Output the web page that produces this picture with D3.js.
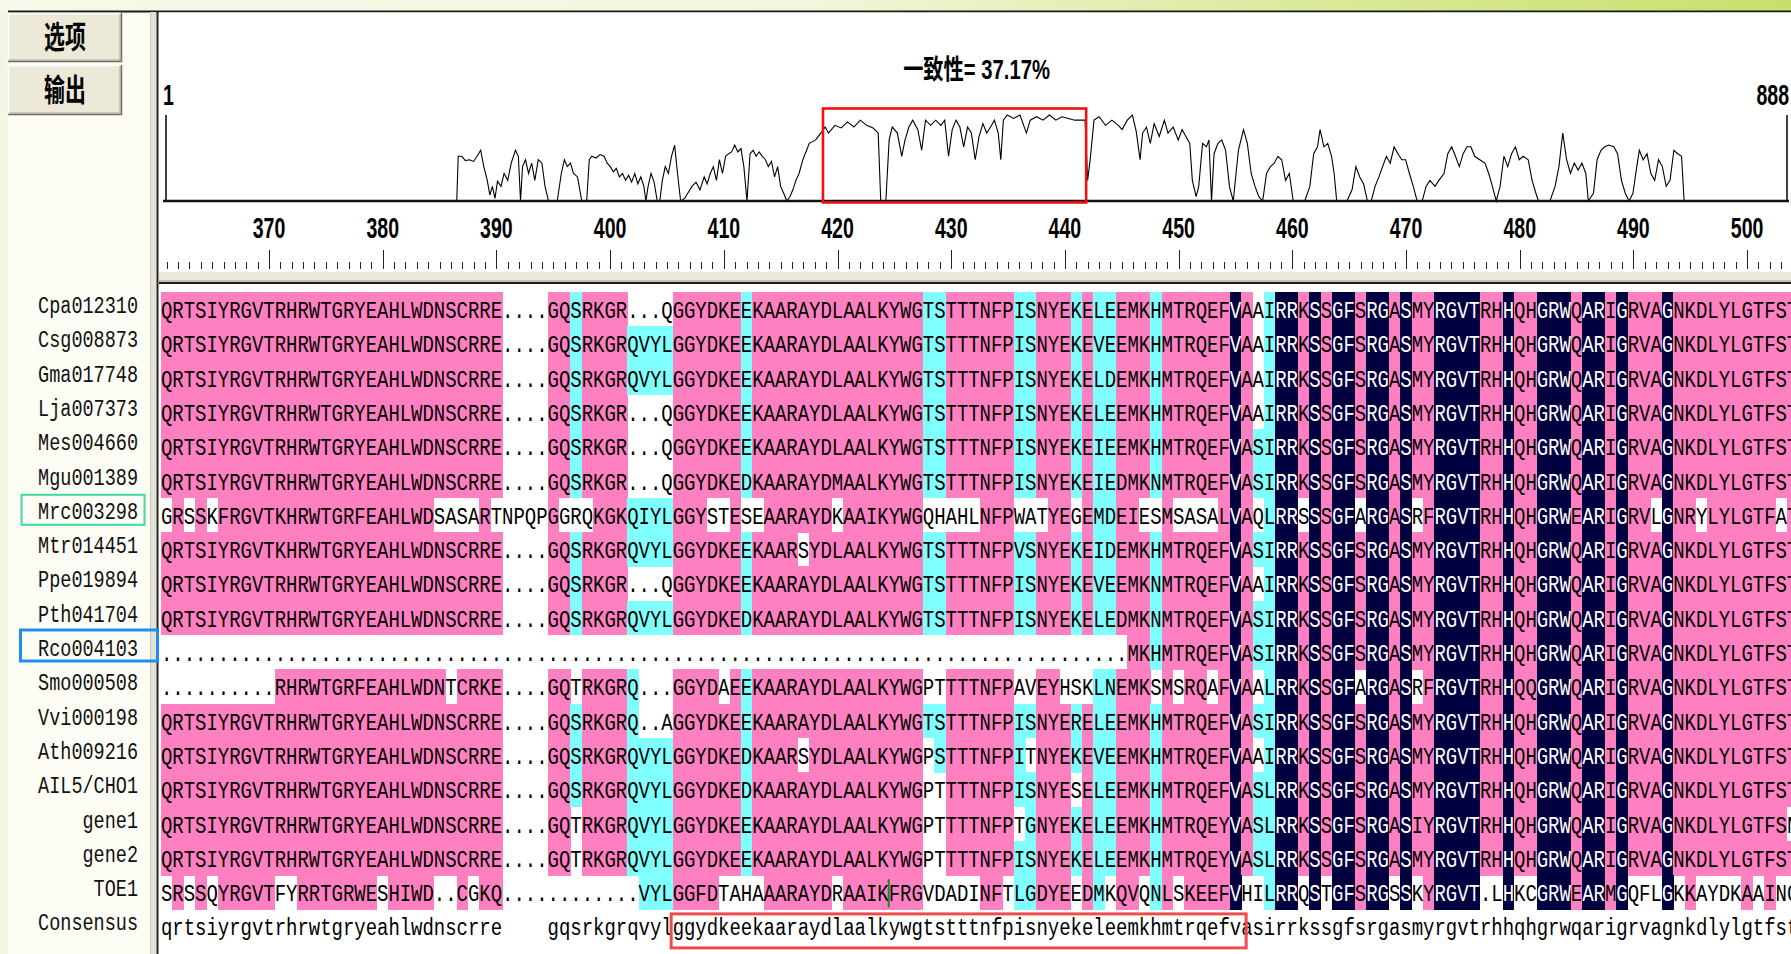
<!DOCTYPE html>
<html>
<head>
<meta charset="utf-8">
<script src="https://cdn.jsdelivr.net/npm/d3@7"></script>
<style>
  html, body { margin: 0; padding: 0; overflow: hidden; background: #fcfdf4; }
  svg { display: block; }
</style>
</head>
<body>
<svg id="chart" width="1791" height="954"></svg>
<script>
// ---------------- alignment data ----------------
const seqNames = [
  "Cpa012310", "Csg008873", "Gma017748", "Lja007373", "Mes004660", "Mgu001389",
  "Mrc003298", "Mtr014451", "Ppe019894", "Pth041704", "Rco004103", "Smo000508",
  "Vvi000198", "Ath009216", "AIL5/CHO1", "gene1", "gene2", "TOE1"
];

const sequences = [
  "QRTSIYRGVTRHRWTGRYEAHLWDNSCRRE....GQSRKGR...QGGYDKEEKAARAYDLAALKYWGTSTTTNFPISNYEKELEEMKHMTRQEFVAAIRRKSSGFSRGASMYRGVTRHHQHGRWQARIGRVAGNKDLYLGTFST",
  "QRTSIYRGVTRHRWTGRYEAHLWDNSCRRE....GQSRKGRQVYLGGYDKEEKAARAYDLAALKYWGTSTTTNFPISNYEKEVEEMKHMTRQEFVAAIRRKSSGFSRGASMYRGVTRHHQHGRWQARIGRVAGNKDLYLGTFST",
  "QRTSIYRGVTRHRWTGRYEAHLWDNSCRRE....GQSRKGRQVYLGGYDKEEKAARAYDLAALKYWGTSTTTNFPISNYEKELDEMKHMTRQEFVAAIRRKSSGFSRGASMYRGVTRHHQHGRWQARIGRVAGNKDLYLGTFST",
  "QRTSIYRGVTRHRWTGRYEAHLWDNSCRRE....GQSRKGR...QGGYDKEEKAARAYDLAALKYWGTSTTTNFPISNYEKELEEMKHMTRQEFVAAIRRKSSGFSRGASMYRGVTRHHQHGRWQARIGRVAGNKDLYLGTFST",
  "QRTSIYRGVTRHRWTGRYEAHLWDNSCRRE....GQSRKGR...QGGYDKEEKAARAYDLAALKYWGTSTTTNFPISNYEKEIEEMKHMTRQEFVASIRRKSSGFSRGASMYRGVTRHHQHGRWQARIGRVAGNKDLYLGTFST",
  "QRTSIYRGVTRHRWTGRYEAHLWDNSCRRE....GQSRKGR...QGGYDKEDKAARAYDMAALKYWGTSTTTNFPISNYEKEIEDMKNMTRQEFVASIRRKSSGFSRGASMYRGVTRHHQHGRWQARIGRVAGNKDLYLGTFST",
  "GRSSKFRGVTKHRWTGRFEAHLWDSASARTNPQPGGRQKGKQIYLGGYSTESEAARAYDKAAIKYWGQHAHLNFPWATYEGEMDEIESMSASALVAQLRRSSSGFARGASRFRGVTRHHQHGRWEARIGRVLGNRYLYLGTFAT",
  "QRTSIYRGVTKHRWTGRYEAHLWDNSCRRE....GQSRKGRQVYLGGYDKEEKAARSYDLAALKYWGTSTTTNFPVSNYEKEIDEMKHMTRQEFVASIRRKSSGFSRGASMYRGVTRHHQHGRWQARIGRVAGNKDLYLGTFST",
  "QRTSIYRGVTRHRWTGRYEAHLWDNSCRRE....GQSRKGR...QGGYDKEEKAARAYDLAALKYWGTSTTTNFPISNYEKEVEEMKNMTRQEFVAAIRRKSSGFSRGASMYRGVTRHHQHGRWQARIGRVAGNKDLYLGTFST",
  "QRTSIYRGVTRHRWTGRYEAHLWDNSCRRE....GQSRKGRQVYLGGYDKEDKAARAYDLAALKYWGTSTTTNFPISNYEKELEDMKNMTRQEFVASIRRKSSGFSRGASMYRGVTRHHQHGRWQARIGRVAGNKDLYLGTFST",
  ".".repeat(85) + "MKHMTRQEFVASIRRKSSGFSRGASMYRGVTRHHQHGRWQARIGRVAGNKDLYLGTFST",
  "..........RHRWTGRFEAHLWDNTCRKE....GQTRKGRQ...GGYDAEEKAARAYDLAALKYWGPTTTTNFPAVEYHSKLNEMKSMSRQAFVAALRRKSSGFARGASRFRGVTRHHQQGRWQARIGRVAGNKDLYLGTFST",
  "QRTSIYRGVTRHRWTGRYEAHLWDNSCRRE....GQSRKGRQ..AGGYDKEEKAARAYDLAALKYWGTSTTTNFPISNYERELEEMKHMTRQEFVASIRRKSSGFSRGASMYRGVTRHHQHGRWQARIGRVAGNKDLYLGTFST",
  "QRTSIYRGVTRHRWTGRYEAHLWDNSCRRE....GQSRKGRQVYLGGYDKEDKAARSYDLAALKYWGPSTTTNFPITNYEKEVEEMKHMTRQEFVAAIRRKSSGFSRGASMYRGVTRHHQHGRWQARIGRVAGNKDLYLGTFST",
  "QRTSIYRGVTRHRWTGRYEAHLWDNSCRRE....GQSRKGRQVYLGGYDKEDKAARAYDLAALKYWGPTTTTNFPISNYESELEEMKHMTRQEFVASLRRKSSGFSRGASMYRGVTRHHQHGRWQARIGRVAGNKDLYLGTFST",
  "QRTSIYRGVTRHRWTGRYEAHLWDNSCRRE....GQTRKGRQVYLGGYDKEEKAARAYDLAALKYWGPTTTTNFPTGNYEKELEEMKHMTRQEYVASLRRKSSGFSRGASIYRGVTRHHQHGRWQARIGRVAGNKDLYLGTFSN",
  "QRTSIYRGVTRHRWTGRYEAHLWDNSCRRE....GQTRKGRQVYLGGYDKEEKAARAYDLAALKYWGPTTTTNFPISNYEKELEEMKHMTRQEYVASLRRKSSGFSRGASMYRGVTRHHQHGRWQARIGRVAGNKDLYLGTFST",
  "SRSSQYRGVTFYRRTGRWESHIWD..CGKQ............VYLGGFDTAHAAARAYDRAAIKFRGVDADINFTLGDYEEDMKQVQNLSKEEFVHILRRQSTGFSRGSSKYRGVT.LHKCGRWEARMGQFLGKKAYDKAAINC"
];

const consensusLine =
  "qrtsiyrgvtrhrwtgryeahlwdnscrre    gqsrkgrqvylggydkeekaaraydlaalkywgtstttnfpisnyekeleemkhmtrqefvasirrkssgfsrgasmyrgvtrhhqhgrwqarigrvagnkdlylgtfst";

// residue pairs shaded as similar to the consensus residue
const similarPairs = ["FY", "FW", "WY", "FL", "FI", "KR", "IL", "IV", "IM", "LM", "LV", "MV",
  "DE", "DN", "EN", "EQ", "DQ", "NQ", "NH", "QH", "RW", "GS", "AG"];

// visible window of the alignment and its ruler
const windowStart = 361;
const windowEnd = 504;
const alignmentLength = 888;
const rulerLabels = [370, 380, 390, 400, 410, 420, 430, 440, 450, 460, 470, 480, 490, 500];
const identityText = "一致性= 37.17%";

// highlighted consensus stretch (alignment columns) and edit caret
const boxedColumns = [45, 94];
const caret = { row: 17, col: 64 };
const greenRow = 6, blueRow = 10;

// overall identity profile along the whole alignment: [position, fraction]
const identityProfile = [
  [160.1,0],[160.9,0.52],[162.9,0.52],[164.8,0.47],[167.0,0.48],[169.3,0.46],[171.2,0.52],[173.2,0.59],[174.9,0.40],[176.8,0.24],
  [178.2,0.07],[179.6,0.17],[181.0,0.03],[182.4,0.23],[184.3,0.17],[186.0,0.32],[188.0,0.24],[189.9,0.44],[192.2,0.59],[193.8,0.52],
  [195.0,0],[196.1,0.40],[197.7,0.48],[199.4,0.32],[201.1,0.44],[202.8,0.24],[204.7,0.48],[206.7,0.44],[208.4,0.17],[210.3,0],
  [215.1,0],[217.3,0.32],[219.0,0.48],[220.6,0.40],[222.3,0.44],[224.0,0.32],[226.2,0.28],[228.5,0],[231.2,0],[232.6,0.48],
  [234.0,0.52],[236.3,0.50],[238.5,0.54],[240.7,0.52],[242.4,0.44],[244.1,0.40],[245.8,0.34],[247.4,0.38],[249.1,0.28],[250.8,0.32],
  [252.5,0.24],[254.1,0.30],[255.8,0.22],[257.5,0.32],[259.2,0.20],[260.8,0.28],[262.5,0.17],[263.6,0],[264.8,0.17],[266.4,0.32],
  [268.1,0.22],[269.8,0],[271.2,0],[272.6,0.24],[274.2,0.40],[275.9,0.32],[277.6,0.52],[279.3,0.65],[280.9,0.32],[282.6,0],
  [284.8,0.03],[286.5,0.09],[288.8,0.17],[291.0,0.22],[293.2,0.13],[295.5,0.28],[297.1,0.20],[298.8,0.32],[300.5,0.40],[302.2,0.24],
  [303.8,0.48],[305.5,0.32],[307.2,0.52],[308.9,0.55],[310.5,0.57],[312.2,0.65],[313.9,0.57],[315.6,0.61],[317.2,0.40],[318.9,0],
  [320.6,0.55],[322.3,0.59],[323.9,0.52],[325.6,0.57],[327.3,0.52],[329.0,0.48],[330.6,0.40],[332.3,0.46],[334.0,0.28],[335.7,0.40],
  [337.3,0.17],[339.0,0.09],[340.7,0],[342.4,0.05],[344.0,0.13],[345.7,0.24],[347.4,0.32],[349.5,0.48],[353.0,0.67],[356.5,0.71],
  [359.3,0.79],[361.7,0.86],[363.5,0.79],[367.0,0.88],[370.5,0.85],[373.9,0.92],[377.4,0.86],[380.9,0.94],[384.4,0.88],[387.9,0.85],
  [390.7,0.79],[392.1,0],[394.9,0],[396.7,0.71],[398.4,0.86],[401.2,0.79],[403.6,0.52],[405.4,0.71],[407.5,0.86],[409.6,0.94],
  [412.4,0.83],[414.5,0.59],[416.6,0.94],[419.4,0.88],[422.2,0.94],[425.0,0.88],[427.1,0.94],[429.2,0.52],[431.2,0.83],[433.3,0.94],
  [435.4,0.86],[437.5,0.63],[439.6,0.86],[441.7,0.79],[443.8,0.48],[445.9,0.75],[448.0,0.90],[450.1,0.79],[452.2,0.86],[454.3,0.94],
  [456.4,0.79],[457.8,0.48],[459.2,0.94],[461.3,1.0],[464.8,0.96],[468.3,1.0],[471.8,0.79],[473.9,0.94],[477.4,0.98],[480.9,0.94],
  [484.4,1.0],[487.9,0.94],[491.3,0.98],[494.8,0.96],[498.3,0.94],[501.8,0.94],[503.9,0.94],[505.3,0.24],[506.7,0.48],[508.8,0.94],
  [511.6,0.98],[515.1,0.88],[518.6,0.94],[522.1,0.88],[524.2,0.83],[527.0,0.94],[529.8,1.0],[531.9,0.81],[534.0,0.48],[535.4,0.79],
  [537.5,0.86],[539.6,0.67],[541.7,0.90],[544.5,0.75],[547.3,0.94],[549.3,0.79],[552.1,0.86],[554.9,0.71],[557.0,0.83],[559.1,0.75],
  [561.2,0.67],[562.6,0.24],[564.7,0.05],[566.1,0.17],[568.2,0.67],[570.3,0.63],[571.7,0.71],[573.1,0],[574.5,0.55],[576.6,0.67],
  [578.7,0.71],[580.8,0.59],[582.9,0.17],[585.0,0],[587.8,0.59],[590.6,0.83],[592.7,0.67],[594.8,0.32],[596.9,0.17],[599.0,0.05],
  [601.1,0],[603.2,0.32],[605.3,0.40],[607.4,0.44],[609.4,0.52],[611.5,0.48],[613.6,0.24],[615.7,0.32],[617.8,0],[624.1,0],
  [626.9,0.17],[629.0,0.55],[631.1,0.63],[632.5,0.83],[634.6,0.63],[636.7,0.67],[638.8,0.52],[640.2,0.32],[641.6,0],[647.2,0],
  [650.0,0.13],[652.1,0.40],[654.2,0.28],[656.3,0.20],[658.4,0],[660.5,0],[662.6,0.17],[664.7,0.28],[666.7,0.40],[668.8,0.52],
  [670.9,0.44],[673.0,0.63],[675.1,0.55],[677.2,0.48],[679.3,0.48],[681.4,0.32],[683.5,0.17],[685.6,0],[688.4,0],[690.5,0.17],
  [692.6,0.24],[695.4,0.17],[697.5,0.24],[700.3,0.32],[702.4,0.55],[704.5,0.63],[706.6,0.52],[708.7,0.40],[710.8,0.55],[712.9,0.63],
  [715.0,0.63],[717.1,0.52],[719.9,0.48],[722.7,0.44],[724.8,0.32],[726.8,0.17],[728.9,0],[731.0,0.17],[733.1,0.52],[735.2,0.40],
  [737.3,0.55],[739.4,0.63],[741.5,0.48],[743.6,0.52],[746.4,0.48],[748.5,0.24],[750.6,0.09],[752.0,0],[758.3,0],[761.1,0.17],
  [763.2,0.40],[765.3,0.79],[767.4,0.48],[769.5,0.32],[771.6,0.44],[773.7,0.36],[775.8,0.44],[777.9,0.32],[779.3,0],[782.1,0.09],
  [784.1,0.48],[786.2,0.59],[788.3,0.63],[790.4,0.65],[793.2,0.63],[795.3,0.55],[797.4,0.24],[799.5,0.09],[801.6,0],[803.7,0.09],
  [805.8,0.40],[807.2,0.59],[809.3,0.48],[811.4,0.55],[813.5,0.32],[815.6,0.24],[817.7,0.48],[819.8,0.40],[821.9,0.17],[824.0,0.24],
  [826.1,0.59],[828.2,0.55],[830.3,0.52],[831.7,0]
];

// ---------------- drawing ----------------
const W = 1791, H = 954;
const svg = d3.select("#chart");
const mono = "'Liberation Mono', 'DejaVu Sans Mono', monospace";
const narrow = "'Liberation Sans', 'Noto Sans CJK SC', sans-serif";
const cjk = "'Noto Sans CJK SC', sans-serif";

// condensed, tall text helper (the window font is tall and narrow)
function tallText(g, x, y, str, opts) {
  return g.append("text")
    .attr("transform", `translate(${x},${y}) scale(${opts.sx || 1},${opts.sy || 1})`)
    .attr("font-family", opts.family)
    .attr("font-size", opts.size)
    .attr("font-weight", opts.weight || "normal")
    .attr("text-anchor", opts.anchor || "start")
    .attr("fill", opts.fill || "#000")
    .text(str);
}

const defs = svg.append("defs");
const grad = defs.append("linearGradient").attr("id", "topStrip").attr("x1", 0).attr("x2", 1);
grad.append("stop").attr("offset", "0%").attr("stop-color", "#f7f9ea");
grad.append("stop").attr("offset", "45%").attr("stop-color", "#f2f6dc");
grad.append("stop").attr("offset", "70%").attr("stop-color", "#dcebA0");
grad.append("stop").attr("offset", "100%").attr("stop-color", "#c9df6c");

// window background
svg.append("rect").attr("width", W).attr("height", H).attr("fill", "#fdfdf6");
svg.append("rect").attr("width", 8).attr("height", H).attr("fill", "#f3f6e2");
svg.append("rect").attr("width", W).attr("height", 11).attr("fill", "url(#topStrip)");
svg.append("line").attr("x1", 8).attr("x2", W).attr("y1", 11.5).attr("y2", 11.5)
  .attr("stroke", "#1a1a1a").attr("stroke-width", 2);

// buttons
const buttons = [{ label: "选项", y0: 13, y1: 61 }, { label: "输出", y0: 65, y1: 114 }];
buttons.forEach(b => {
  const g = svg.append("g");
  g.append("rect").attr("x", 8).attr("y", b.y0).attr("width", 113).attr("height", b.y1 - b.y0).attr("fill", "#ece9d8");
  g.append("path").attr("d", `M8.5,${b.y1} V${b.y0 + 0.5} H120.5`).attr("stroke", "#ffffff").attr("stroke-width", 1.5).attr("fill", "none");
  g.append("path").attr("d", `M9,${b.y1 - 1} H120 V${b.y0 + 1}`).attr("stroke", "#aca899").attr("stroke-width", 1).attr("fill", "none");
  g.append("path").attr("d", `M8,${b.y1 + 0.5} H121.5 V${b.y0}`).attr("stroke", "#716f64").attr("stroke-width", 1.5).attr("fill", "none");
  tallText(g, 65, (b.y0 + b.y1) / 2 + 11, b.label, { family: cjk, size: 22, weight: 700, sx: 0.95, sy: 1.4, anchor: "middle" });
});

// splitter and panel frames
svg.append("rect").attr("x", 150).attr("y", 12).attr("width", 6).attr("height", H - 12).attr("fill", "#e4e2d4");
svg.append("line").attr("x1", 150.5).attr("x2", 150.5).attr("y1", 12).attr("y2", H).attr("stroke", "#c8c6b8");
svg.append("line").attr("x1", 157.5).attr("x2", 157.5).attr("y1", 11).attr("y2", H).attr("stroke", "#222").attr("stroke-width", 2);
svg.append("rect").attr("x", 159).attr("y", 12.5).attr("width", W - 159).attr("height", 258.5).attr("fill", "#ffffff");
svg.append("rect").attr("x", 159).attr("y", 271).attr("width", W - 159).attr("height", 11).attr("fill", "#ece9d8");
svg.append("line").attr("x1", 159).attr("x2", W).attr("y1", 271.5).attr("y2", 271.5).attr("stroke", "#fbfbf5");
svg.append("line").attr("x1", 159).attr("x2", W).attr("y1", 281).attr("y2", 281).attr("stroke", "#9d9b90");
svg.append("line").attr("x1", 159).attr("x2", W).attr("y1", 283).attr("y2", 283).attr("stroke", "#1a1a1a").attr("stroke-width", 2);
svg.append("rect").attr("x", 159).attr("y", 284).attr("width", W - 159).attr("height", H - 284).attr("fill", "#ffffff");

// ---------- overview identity graph ----------
const xG = d3.scaleLinear().domain([1, alignmentLength]).range([166, 1787]);
const yG = d3.scaleLinear().domain([0, 1]).range([201, 115]);
const graph = svg.append("g");

graph.append("path")
  .datum(identityProfile)
  .attr("d", d3.line().x(d => xG(d[0])).y(d => yG(d[1])))
  .attr("fill", "none").attr("stroke", "#000").attr("stroke-width", 1.1);

[1, alignmentLength].forEach(p => {
  graph.append("line").attr("x1", xG(p)).attr("x2", xG(p)).attr("y1", yG(1)).attr("y2", yG(0))
    .attr("stroke", "#000").attr("stroke-width", 1.5);
});
graph.append("line").attr("x1", xG(1) - 3).attr("x2", xG(alignmentLength) + 2).attr("y1", yG(0)).attr("y2", yG(0))
  .attr("stroke", "#111").attr("stroke-width", 2.6);

tallText(graph, xG(1) - 3, 105, "1", { family: narrow, size: 23, weight: 700, sx: 0.85, sy: 1.28 });
tallText(graph, xG(alignmentLength) + 2, 105, String(alignmentLength), { family: narrow, size: 23, weight: 700, sx: 0.85, sy: 1.28, anchor: "end" });
tallText(graph, (xG(1) + xG(alignmentLength)) / 2, 79, identityText, { family: narrow, size: 23, weight: 700, sx: 0.88, sy: 1.2, anchor: "middle" });

// current window marker on the overview
graph.append("rect")
  .attr("x", xG(windowStart - 0.5)).attr("y", 108.5)
  .attr("width", xG(windowEnd + 0.5) - xG(windowStart - 0.5)).attr("height", 94)
  .attr("fill", "none").attr("stroke", "#ee1111").attr("stroke-width", 2.6);

// ---------- ruler ----------
const nCols = consensusLine.length;
const x0 = 161, cw = 11.37;
const xCol = d3.scaleBand().domain(d3.range(nCols)).range([x0, x0 + nCols * cw]).padding(0);
const xPos = d3.scaleLinear().domain([windowStart, windowEnd]).range([x0 + cw / 2, x0 + (nCols - 0.5) * cw]);
const ruler = svg.append("g");
d3.range(windowStart, windowEnd + 1).forEach(p => {
  const major = p % 10 === 0;
  ruler.append("line")
    .attr("x1", Math.round(xPos(p)) + 0.5).attr("x2", Math.round(xPos(p)) + 0.5)
    .attr("y1", major ? 250 : 262).attr("y2", 269)
    .attr("stroke", "#222").attr("stroke-width", 1);
});
rulerLabels.forEach(p => {
  tallText(ruler, xPos(p), 238, String(p), { family: narrow, size: 23, weight: 700, sx: 0.85, sy: 1.28, anchor: "middle" });
});

// ---------- alignment ----------
const N = sequences.length;
const rows = sequences.concat([consensusLine]);
const yRow = d3.scaleBand().domain(d3.range(rows.length)).range([292, 292 + rows.length * 34.3]).padding(0);

const simSet = new Set();
similarPairs.forEach(p => { simSet.add(p); simSet.add(p[1] + p[0]); });

const levels = d3.range(nCols).map(c => {
  const cons = consensusLine[c].toUpperCase();
  if (cons === " ") return null;
  const n = sequences.filter(s => s[c] === cons).length;
  if (n === N) return "full";
  if (n / N >= 0.75) return "high";
  if (n / N >= 0.5) return "mid";
  return null;
});
const shade = { full: "#000040", high: "#ff80c0", mid: "#80ffff" };

const cells = [];
sequences.forEach((s, r) => {
  for (let c = 0; c < nCols; c++) {
    const ch = s[c] || " ";
    const cons = consensusLine[c].toUpperCase();
    const lvl = levels[c];
    const hit = lvl && (ch === cons || simSet.has(ch + cons));
    cells.push({ r, c, ch, lvl: hit ? lvl : null });
  }
});

const aln = svg.append("g");
aln.append("g").attr("shape-rendering", "crispEdges")
  .selectAll("rect").data(cells.filter(d => d.lvl)).join("rect")
  .attr("x", d => xCol(d.c)).attr("y", d => yRow(d.r))
  .attr("width", xCol.bandwidth() + 0.4).attr("height", yRow.bandwidth() + 0.4)
  .attr("fill", d => shade[d.lvl]);

const seqText = aln.append("g").attr("font-family", mono).attr("font-size", 19).attr("text-anchor", "middle");
seqText.selectAll("text").data(cells.filter(d => d.ch !== " ")).join("text")
  .attr("transform", d => `translate(${xCol(d.c) + cw / 2},${yRow(d.r) + 26}) scale(1,1.25)`)
  .attr("fill", d => d.lvl === "full" ? "#ffffff" : "#000")
  .text(d => d.ch);

// consensus line
const consRow = rows.length - 1;
seqText.append("g").selectAll("text")
  .data(d3.range(nCols).filter(c => consensusLine[c] !== " ")).join("text")
  .attr("transform", c => `translate(${xCol(c) + cw / 2},${yRow(consRow) + 26}) scale(1,1.25)`)
  .attr("fill", "#000")
  .text(c => consensusLine[c]);

// edit caret
aln.append("line")
  .attr("x1", xCol(caret.col)).attr("x2", xCol(caret.col))
  .attr("y1", yRow(caret.row) + 4).attr("y2", yRow(caret.row) + yRow.bandwidth() - 2)
  .attr("stroke", "#118833").attr("stroke-width", 2);

// highlighted consensus stretch
aln.append("rect")
  .attr("x", xCol(boxedColumns[0]) - 1.5).attr("y", yRow(consRow) + 4.5)
  .attr("width", xCol(boxedColumns[1] + 1) + 5 - xCol(boxedColumns[0]) + 1.5)
  .attr("height", 34)
  .attr("fill", "none").attr("stroke", "#ef4b4b").attr("stroke-width", 3);

// sequence names
const nameG = svg.append("g").attr("font-family", mono).attr("font-size", 18.5).attr("text-anchor", "end").attr("fill", "#111");
nameG.selectAll("text").data(seqNames.concat(["Consensus"])).join("text")
  .attr("transform", (d, i) => `translate(138,${yRow(i) + 21}) scale(1,1.25)`)
  .text(d => d);

svg.append("rect").attr("x", 21.5).attr("y", yRow(greenRow) - 3).attr("width", 123).attr("height", 30)
  .attr("fill", "none").attr("stroke", "#3ddc9c").attr("stroke-width", 2);
svg.append("rect").attr("x", 20.5).attr("y", yRow(blueRow) - 5).attr("width", 137).attr("height", 31)
  .attr("fill", "none").attr("stroke", "#1e8ff0").attr("stroke-width", 3);
</script>
</body>
</html>
